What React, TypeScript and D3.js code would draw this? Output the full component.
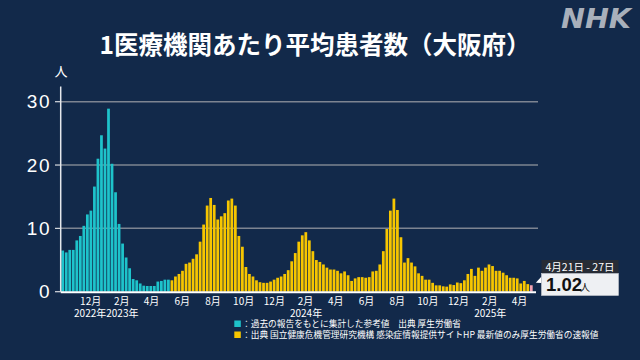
import React from "react";
import * as d3 from "d3";

const W = 640;
const H = 360;

// weekly categories (Monday week starts)
const firstWeek = "2022-10-03";
const lastWeek = "2025-04-21";

// 過去の報告をもとに集計した参考値 (teal)
const referenceValues = [
  6.5, 6.2, 6.6, 6.6, 8.1, 8.8, 10.4, 12.2, 12.8, 16.6, 21.0, 24.7, 22.6, 28.9,
  20.2, 15.7, 10.7, 7.6, 5.4, 3.7, 2.0, 1.8, 1.3, 0.95, 0.9, 0.9, 0.9, 1.6, 1.7,
  1.9, 1.9,
];

// 国立健康危機管理研究機構 (yellow); last value is the 速報値
const surveillanceValues = [
  1.8, 2.4, 2.8, 3.3, 4.4, 4.6, 5.2, 5.9, 7.9, 10.6, 13.6, 14.8, 13.7, 11.4, 11.9,
  12.4, 14.4, 14.7, 13.6, 8.8, 7.1, 3.9, 2.8, 2.4, 1.8, 1.5, 1.4, 1.4, 1.6, 1.9,
  2.2, 2.4, 2.8, 3.4, 4.8, 6.1, 7.9, 8.9, 9.4, 8.1, 6.4, 5.0, 4.7, 4.3, 3.8, 3.5,
  3.5, 3.3, 2.9, 3.2, 2.6, 1.7, 2.1, 2.3, 2.3, 2.2, 2.3, 3.2, 3.3, 4.3, 6.4, 9.9,
  12.8, 14.7, 12.9, 8.6, 4.6, 5.3, 4.6, 4.0, 2.9, 2.5, 1.9, 1.9, 1.4, 1.0, 1.0,
  0.85, 0.8, 1.15, 1.05, 1.45, 1.35, 1.8, 2.8, 3.6, 2.5, 3.8, 3.3, 3.8, 4.3, 4.05,
  3.3, 3.3, 3.0, 2.6, 2.2, 2.2, 2.1, 1.3, 1.7, 1.2, 1.02,
];

const yTicks = [0, 10, 20, 30];
const monthTickStart = "2022-12-01";
const monthTickEnd = "2025-05-01";
const yearLabels = ["2022年", "2023年", "2024年", "2025年"];
const yearLabelDates = ["2023-01-01", "2023-01-01", "2024-01-01", "2025-01-01"];
const yearLabelAnchors = ["end", "start", "start", "start"];

const title = "1医療機関あたり平均患者数（大阪府）";
const yUnit = "人";
const legendTexts = [
  "：過去の報告をもとに集計した参考値　出典 厚生労働省",
  "：出典 国立健康危機管理研究機構 感染症情報提供サイトHP 最新値のみ厚生労働省の速報値",
];
const calloutPeriod = "4月21日 - 27日";
const calloutUnit = "人";

const BG = "#12294a";
const TEAL = "#1ec3cb";
const YELLOW = "#f7c600";
const PINK = "#f2a2b2";
const GRID = "#7d8491";
const FONT = "'Noto Sans CJK JP', 'Noto Sans', sans-serif";
const LATIN = "'Liberation Sans', Arial, sans-serif";

const HALF_WEEK = 3.5 * 24 * 3600 * 1000;

export default function App() {
  const weeks = d3.utcMonday.range(
    new Date(firstWeek + "T00:00:00Z"),
    d3.utcDay.offset(new Date(lastWeek + "T00:00:00Z"), 1)
  );
  const values = [...referenceValues, ...surveillanceValues];
  const data = weeks.map((d, i) => ({
    date: d,
    value: values[i],
    kind:
      i < referenceValues.length
        ? "ref"
        : i === weeks.length - 1
        ? "latest"
        : "sur",
  }));

  const mid = (d: Date) => new Date(d.getTime() + HALF_WEEK);
  const x = d3
    .scaleUtc()
    .domain([mid(weeks[0]), mid(weeks[weeks.length - 1])])
    .range([62.7, 531.3]);
  const step = x(mid(weeks[1])) - x(mid(weeks[0]));
  const bw = step * 0.78;

  const y = d3.scaleLinear().domain([0, 30]).range([291.7, 101.7]);

  const months = d3.utcMonth.range(
    new Date(monthTickStart + "T00:00:00Z"),
    new Date(monthTickEnd + "T00:00:00Z"),
    2
  );

  const axisLeft = 60.7;
  const plotRight = 538;
  const last = data[data.length - 1];

  const colorOf = (k: string) =>
    k === "ref" ? TEAL : k === "latest" ? PINK : YELLOW;

  return (
    <svg
      width={W}
      height={H}
      style={{ position: "absolute", left: 0, top: 0, display: "block" }}
      fontFamily={FONT}
    >
      <rect x={0} y={0} width={W} height={H} fill={BG} />

      {/* NHK logo */}
      <text
        x={561}
        y={27.5}
        fontSize={26}
        fontWeight={700}
        fontStyle="italic"
        fill="#a9b0bb"
        fontFamily="'DejaVu Sans', sans-serif"
        textLength={70}
        lengthAdjust="spacingAndGlyphs"
      >
        NHK
      </text>

      {/* title */}
      <text
        x={315}
        y={43}
        textAnchor="middle"
        dominantBaseline="central"
        fontSize={24.5}
        fontWeight={700}
        fill="#ffffff"
      >
        {title}
      </text>

      {/* y unit */}
      <text
        x={61}
        y={70}
        textAnchor="middle"
        dominantBaseline="central"
        fontSize={13}
        fill="#ffffff"
      >
        {yUnit}
      </text>

      {/* grid */}
      {yTicks
        .filter((t) => t > 0)
        .map((t) => (
          <line
            key={"g" + t}
            x1={axisLeft}
            x2={plotRight}
            y1={y(t)}
            y2={y(t)}
            stroke={GRID}
            strokeWidth={1.5}
          />
        ))}

      {/* y ticks + labels */}
      {yTicks.map((t) => (
        <g key={"t" + t}>
          <line
            x1={55}
            x2={axisLeft}
            y1={y(t)}
            y2={y(t)}
            stroke="#d8dbe0"
            strokeWidth={1.2}
          />
          <text
            x={51}
            y={y(t)}
            textAnchor="end"
            dominantBaseline="central"
            fontSize={19}
            letterSpacing={1.5}
            fill="#ffffff"
            fontFamily={LATIN}
          >
            {t}
          </text>
        </g>
      ))}

      {/* bars */}
      {data.map((d, i) => (
        <rect
          key={"b" + i}
          x={x(mid(d.date)) - bw / 2}
          y={y(d.value)}
          width={bw}
          height={y(0) - y(d.value)}
          fill={colorOf(d.kind)}
        />
      ))}

      {/* axes lines */}
      <line
        x1={axisLeft}
        x2={axisLeft}
        y1={86.5}
        y2={y(0)}
        stroke="#e6e8ec"
        strokeWidth={1.5}
      />
      <line
        x1={axisLeft}
        x2={plotRight - 2}
        y1={y(0) + 0.5}
        y2={y(0) + 0.5}
        stroke="#ffffff"
        strokeWidth={2}
      />

      {/* month labels */}
      {months.map((m, i) => (
        <text
          key={"m" + i}
          x={x(m)}
          y={300.5}
          textAnchor="middle"
          dominantBaseline="central"
          fontSize={10}
          fill="#ffffff"
        >
          {m.getUTCMonth() + 1}月
        </text>
      ))}

      {/* year labels */}
      {yearLabels.map((l, i) => (
        <text
          key={"y" + i}
          x={x(new Date(yearLabelDates[i] + "T00:00:00Z"))}
          y={312.5}
          textAnchor={yearLabelAnchors[i] as any}
          dominantBaseline="central"
          fontSize={10}
          fill="#ffffff"
        >
          {l}
        </text>
      ))}

      {/* legend */}
      {legendTexts.map((t, i) => (
        <g key={"l" + i}>
          <rect
            x={234.3}
            y={320.5 + i * 11}
            width={6.5}
            height={6.5}
            fill={i === 0 ? TEAL : YELLOW}
          />
          <text
            x={242}
            y={323.8 + i * 10.2}
            dominantBaseline="central"
            fontSize={8.7}
            fill="#ffffff"
          >
            {t}
          </text>
        </g>
      ))}

      {/* callout */}
      <g>
        <path
          d={`M${x(mid(last.date)) + 4.5},${y(0) - 9} L${541.5},${276.5} L${541.5},${283} Z`}
          fill="#ffffff"
        />
        <rect x={541.5} y={260} width={77} height={13.5} fill="#272c35" />
        <text
          x={545.5}
          y={266.8}
          dominantBaseline="central"
          fontSize={10.5}
          fill="#ffffff"
        >
          {calloutPeriod}
        </text>
        <rect
          x={541.5}
          y={273.5}
          width={77}
          height={22}
          fill="#eef0f3"
          stroke="#c9ccd2"
          strokeWidth={0.6}
        />
        <text
          x={546}
          y={291.3}
          fontSize={18.5}
          fontWeight={700}
          fill="#111111"
          fontFamily={LATIN}
        >
          {d3.format(".2f")(last.value)}
        </text>
        <text x={580} y={291.3} fontSize={10} fill="#111111">
          {calloutUnit}
        </text>
      </g>
    </svg>
  );
}
